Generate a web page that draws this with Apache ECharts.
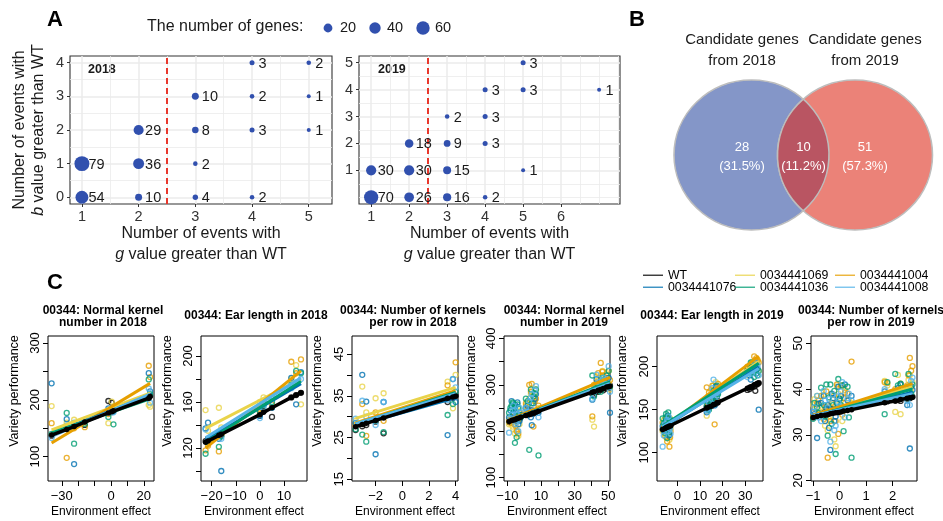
<!DOCTYPE html>
<html><head><meta charset="utf-8">
<script src="https://cdn.jsdelivr.net/npm/echarts@6/dist/echarts.min.js"></script>
<style>html,body{margin:0;padding:0;background:#fff}#c{width:943px;height:521px}</style>
</head><body><div id="c"></div>
<script>
// ===== Panel A data =====
const a2018G = [1,1,2,2,2,3,3,3,3,4,4,4,4,5,5,5];
const a2018B = [0,1,0,1,2,0,1,2,3,0,2,3,4,2,3,4];
const a2018N = [54,79,10,36,29,4,2,8,10,2,3,2,3,1,1,2];
const a2019G = [1,1,2,2,2,3,3,3,3,4,4,4,4,5,5,5,7];
const a2019B = [0,1,0,1,2,0,1,2,3,0,2,3,4,1,4,5,4];
const a2019N = [70,30,26,30,18,16,15,9,2,2,3,3,3,1,3,3,1];
const sizeLegendValues = [20,40,60];
const cutoffG = 2.5;
const yearLabels = ['2018','2019'];
const a2018XTicks = [1,2,3,4,5];
const a2018YTicks = [0,1,2,3,4];
const a2019XTicks = [1,2,3,4,5,6];
const a2019YTicks = [1,2,3,4,5];

// ===== Panel B data =====
const vennTitles = ['Candidate genes\nfrom 2018','Candidate genes\nfrom 2019'];
const vennCounts = [28,10,51];
const vennPct = ['31.5%','11.2%','57.3%'];

// ===== Panel C data =====
const genotypes = ['WT','0034441069','0034441004','0034441076','0034441036','0034441008'];
const cTitles = ['00344: Normal kernel\nnumber in 2018','00344: Ear length in 2018','00344: Number of kernels\nper row in 2018',
                 '00344: Normal kernel\nnumber in 2019','00344: Ear length in 2019','00344: Number of kernels\nper row in 2019'];
// plot 1: normal kernel number 2018  (obs rows in genotype order)
const p1Env = [-36.2,-27,-22.5,-16,-1.6,0.4,1.5,23.0,23.8];
const p1Obs = [
  [137,150,158,156,198,195,182,203,207],
  [189,160,165,162,159,197,185,191,188],
  [159,98,150,152,175,182,180,260,240],
  [229,166,87,163,185,178,180,247,215],
  [140,177,123,158,170,182,157,236,210],
  [133,155,160,162,179,185,178,220,195]];
const p1Fit = [[138,206],[147,212],[124,229],[140,208],[142,202],[136,210]];
const p1WTFit = [138,148,153,161,177,179,181,203,206];
// plot 2: ear length 2018
const p2Env = [-22.5,-21.5,-17,-16,0,1.5,5,13,15,17];
const p2Obs = [
  [126,128,133,131,148,152,147,164,166,168],
  [153,135,155,138,160,164,163,180,192,158],
  [118,122,117,133,150,160,158,195,185,197],
  [137,142,128,100,148,160,155,181,158,186],
  [115,125,121,130,152,157,160,175,187,185],
  [136,127,132,128,146,155,165,172,177,180]];
const p2Fit = [[125,168],[137,180],[120,187],[127,176],[125,178],[129,181]];
const p2WTFit = [125,126,131,132,149,151,155,164,166,168];
// plot 3: kernels per row 2018
const p3Env = [-3.5,-3.0,-2.7,-2.0,-1.4,3.4,3.8,4.0];
const p3Obs = [
  [26.8,27.7,28,28.8,26,33.5,34.5,35],
  [29,37.2,31,34.4,35.6,38.4,32,40],
  [28,33,25.4,31,29,37.5,35,43],
  [28.5,40,33.6,21,33.5,25.6,39,33.5],
  [27,25.7,24,29,26.3,30.4,33,36],
  [29.5,33.8,30,28,33.5,34,39,37]];
const p3Fit = [[27.6,34.9],[29.6,37],[28.5,36.2],[27.8,34.5],[28.2,35.8],[28.3,35.5]];
const p3WTFit = [27.6,28.1,28.4,29.1,29.7,34.4,34.7,34.9];
// plot 4: normal kernel number 2019
const p4Env = [-9,-7.5,-6.5,-5.5,-4.5,-3.5,-2,1,3,4.5,5.5,7,8.5,40.5,41.5,44,45.5,47,49,50.2,51];
const p4Obs = [
  [220,224,226,222,230,228,232,236,240,245,238,244,246,280,278,285,290,288,292,295,298],
  [215,225,205,195,230,190,245,255,270,285,265,290,250,225,210,310,320,315,325,305,290],
  [225,222,240,215,200,195,235,260,300,302,210,270,255,232,300,325,347,320,315,330,310],
  [230,265,240,250,228,215,235,250,245,213,260,280,240,268,290,300,295,305,310,315,240],
  [240,255,260,175,187,250,230,270,160,260,275,290,148,320,275,300,285,310,320,330,295],
  [197,235,255,245,220,200,240,250,265,280,245,297,230,270,285,305,300,315,312,340,285]];
const p4EnvB = [-8.2,-6.8,-5.2,-4,-2.8,2,4,6.3,43,46.5];
const p4ObsB = [
  [223,225,227,229,226,235,237,240,286,291],
  [232,210,228,200,215,262,280,275,318,330],
  [218,230,212,226,240,248,285,265,305,328],
  [245,238,256,262,222,255,230,270,312,300],
  [250,262,243,258,235,265,290,282,295,315],
  [228,245,215,236,250,242,272,288,322,310]];
const p4Fit = [[221,297],[222,300],[224,316],[223,304],[222,306],[222,303]];
const p4WTFit = [221,223,224,225,227,228,230,234,236,238,239,241,243,284,285,288,290,292,295,296,297];
// plot 5: ear length 2019
const p5Env = [-6.5,-5.5,-5,-4.5,-4,-3.5,-3,13,14,15,16,16.5,17.5,18,31,32,33,34,34.5,35,36];
const p5Obs = [
  [127,128,129,130,131,130,132,153,155,156,157,158,159,160,173,174,176,177,172,179,181],
  [125,130,118,135,142,115,128,143,165,172,178,168,160,174,190,200,195,205,198,202,195],
  [135,120,140,113,130,107,125,176,170,165,160,133,175,180,200,198,205,212,208,210,205],
  [131,125,137,128,140,121,133,147,152,160,168,155,165,170,195,190,198,200,205,192,150],
  [140,123,145,117,147,133,138,155,150,162,172,165,178,168,198,193,202,188,200,196,195],
  [107,133,128,138,125,130,122,150,158,167,185,162,170,175,188,195,192,198,204,200,190]];
const p5EnvB = [-6,-5.2,-4.2,-3.8,-3.2,13.5,15.5,17,32.5,35.5];
const p5ObsB = [
  [128,129,131,130,132,154,155,157,176,180],
  [138,127,122,133,140,158,170,182,203,208],
  [128,133,125,138,118,165,178,172,195,207],
  [126,136,143,120,131,150,163,177,185,198],
  [134,141,129,124,137,160,158,171,205,190],
  [120,131,136,142,128,148,175,169,197,202]];
const p5Fit = [[127,181],[129,206],[128,212],[129,200],[131,204],[130,198]];
const p5WTFit = [127,128,129,130,130,131,131,152,153,154,156,156,158,158,175,176,177,179,179,180,181];
// plot 6: kernels per row 2019
const p6Env = [-1.0,-0.85,-0.7,-0.55,-0.45,-0.35,-0.25,-0.15,-0.05,0.05,0.15,0.3,0.45,1.7,2.1,2.3,2.55,2.65,2.75];
const p6Obs = [
  [33.8,34.2,34.5,35,34.6,35.3,35.0,35.5,35.2,35.8,35.4,35.9,36,37.2,37.5,37.4,37.9,38,38.3],
  [36.5,38.5,35,32,31,34,37,27.5,39,37.5,40.5,36,37,41.8,35,34.5,40.5,43,41.5],
  [34,36.8,38.5,36,25,33,35.5,33,30.2,40.8,38,39,46,41.5,40,41.2,40.8,46.8,45],
  [35,29.3,37,33,36.5,26.7,38,34,40.5,38.5,36,37.5,38.5,39.5,38.5,41,36.5,27,39.8],
  [33.5,36,40.3,34,29.8,41,36.5,25.8,42.2,36.5,30.8,40.5,25,34.5,43.3,41.2,38,40.5,41],
  [35,38.5,33,37.5,36,28.5,38.8,32,37,39.5,35.5,38,37.5,40,39,38.2,37.5,36.5,42.5]];
const p6EnvB = [-0.95,-0.8,-0.6,-0.5,-0.4,-0.3,-0.2,-0.1,0,0.1,0.2,0.35,1.8,2.2,2.6,2.7];
const p6ObsB = [
  [34.0,34.6,34.8,35.1,34.9,35.6,35.2,35.4,35.7,35.5,35.9,36.1,37.3,37.6,38.1,38.2],
  [37.8,35.5,38.8,36.2,33.5,38.8,29,40.5,36.8,33,39.8,37.6,40.8,43.1,42,40],
  [35.8,37.5,33.4,39.5,34.7,37,38.7,41,36,34.4,39.2,36.5,41.3,39.5,43,44],
  [34.5,36.8,38.5,35.8,31.5,39,33,36.9,37.8,35.5,41,36,38.7,40.2,38,40.6],
  [37,34.8,36.5,41,38.2,32.4,39.6,35,37.9,40.8,36,33.8,41.5,40.8,43.3,39],
  [36,33.8,39.6,34.5,37.8,35.2,31,38.4,36.3,41.5,33.8,39,38.5,39.8,40.5,41.8]];
const p6Fit = [[33.8,38.2],[34.2,40.5],[34.3,41.2],[34.1,39.3],[34,40],[34.2,39]];
const p6WTFit = [33.8,34.0,34.2,34.3,34.4,34.6,34.7,34.8,34.9,35.0,35.2,35.3,35.5,37.0,37.4,37.7,38.0,38.1,38.2];

// ===== styles / layout =====
const FONT = '"Liberation Sans", Arial, Helvetica, sans-serif';
const BUBBLE = '#3150AE';
const GCOL = ['#000000','#E9D34A','#E69F00','#0072B2','#009E73','#56B4E9'];
const cEnv = [p1Env,p2Env,p3Env,p4Env,p5Env,p6Env];
const cObs = [p1Obs,p2Obs,p3Obs,p4Obs,p5Obs,p6Obs];
const cEnvB = [[],[],[],p4EnvB,p5EnvB,p6EnvB];
const cObsB = [null,null,null,p4ObsB,p5ObsB,p6ObsB];
const cFit = [p1Fit,p2Fit,p3Fit,p4Fit,p5Fit,p6Fit];
const cWT = [p1WTFit,p2WTFit,p3WTFit,p4WTFit,p5WTFit,p6WTFit];
const cLayout = [
 {left:48, xMin:-38.4,xMax:26.2, yMin:57.3,yMax:312.3, xT:[-30,-20,-10,0,10,20], xL:[-30,0,20], yT:[100,150,200,250,300], yL:[100,200,300], tX:103, lX:15},
 {left:201,xMin:-24.4,xMax:19.5, yMin:91.3,yMax:217.4, xT:[-20,-10,0,10], xL:[-20,-10,0,10], yT:[100,120,140,160,180,200], yL:[120,160,200], tX:256, lX:168},
 {left:352,xMin:-3.77,xMax:4.18, yMin:14.6,yMax:49.3, xT:[-2,0,2,4], xL:[-2,0,2,4], yT:[15,20,25,30,35,40,45], yL:[15,25,35,45], tX:413, lX:318},
 {left:504,xMin:-12,xMax:51, yMin:92.9,yMax:405, xT:[-10,0,10,20,30,40,50], xL:[-10,10,30,50], yT:[100,150,200,250,300,350,400], yL:[100,200,300,400], tX:564, lX:472},
 {left:657,xMin:-9.0,xMax:37.9, yMin:67.1,yMax:235.7, xT:[0,10,20,30], xL:[0,10,20,30], yT:[100,150,200], yL:[100,150,200], tX:712, lX:623},
 {left:811,xMin:-1.08,xMax:2.92, yMin:19.9,yMax:51.6, xT:[-1,0,1,2], xL:[-1,0,1,2], yT:[20,30,40,50], yL:[20,30,40,50], tX:871, lX:778}
];
function bubbleSize(n){ return 2.6 + 1.39*Math.sqrt(n); }
function minusFmt(v){ v = Number(v); return v < 0 ? '\u2212' + Math.abs(v) : String(v); }

const grid = [], xAxis = [], yAxis = [], series = [], graphic = [];

// ----- Panel A -----
const aCfg = [
  {left:70, width:262, xMin:0.79, xMax:5.41, yMin:-0.2, yMax:4.2, xT:a2018XTicks, xL:a2018XTicks, xMinor:[1.5,2.5,3.5,4.5], yT:a2018YTicks, yL:a2018YTicks, yMinor:[0.5,1.5,2.5,3.5], G:a2018G, B:a2018B, N:a2018N},
  {left:359,width:261, xMin:0.68, xMax:7.55, yMin:-0.25, yMax:5.25, xT:a2019XTicks, xL:a2019XTicks, xMinor:[1.5,2.5,3.5,4.5,5.5,6.5,7,7.5], yT:a2019YTicks, yL:a2019YTicks, yMinor:[0,0.5,1.5,2.5,3.5,4.5], G:a2019G, B:a2019B, N:a2019N}
];
aCfg.forEach((c, k) => {
  grid.push({left:c.left, top:56, width:c.width, height:148, show:true, borderColor:'#333', borderWidth:1.1, backgroundColor:'#fff', outerBoundsMode:'none', containLabel:false});
  const gi = k;
  const majorLine = {show:true, lineStyle:{color:'#EBEBEB', width:1.5}};
  const minorLine = {show:true, lineStyle:{color:'#EBEBEB', width:0.8}};
  xAxis.push({gridIndex:gi, type:'value', position:'bottom', min:c.xMin, max:c.xMax,
    axisLine:{show:false, onZero:false}, axisTick:{show:true, length:3, lineStyle:{color:'#333', width:1}, customValues:c.xT},
    axisLabel:{customValues:c.xL, margin:5, fontSize:14.5, color:'#333', fontFamily:FONT}, splitLine:majorLine});
  xAxis.push({gridIndex:gi, type:'value', position:'top', min:c.xMin, max:c.xMax,
    axisLine:{show:false, onZero:false}, axisTick:{show:false, customValues:c.xMinor}, axisLabel:{show:false}, splitLine:minorLine});
  yAxis.push({gridIndex:gi, type:'value', position:'left', min:c.yMin, max:c.yMax,
    axisLine:{show:false, onZero:false}, axisTick:{show:true, length:3, lineStyle:{color:'#333', width:1}, customValues:c.yT},
    axisLabel:{customValues:c.yL, margin:6, fontSize:14.5, color:'#333', fontFamily:FONT}, splitLine:majorLine});
  yAxis.push({gridIndex:gi, type:'value', position:'right', min:c.yMin, max:c.yMax,
    axisLine:{show:false, onZero:false}, axisTick:{show:false, customValues:c.yMinor}, axisLabel:{show:false}, splitLine:minorLine});
  series.push({
    type:'scatter', xAxisIndex:2*k, yAxisIndex:2*k, silent:true, z:3,
    data:c.G.map((g,i)=>[g, c.B[i], c.N[i]]),
    symbolSize:v=>bubbleSize(v[2]),
    itemStyle:{color:BUBBLE, opacity:1},
    label:{show:true, position:'inside', align:'left', verticalAlign:'middle', offset:[6.5,1],
      formatter:p=>String(p.value[2]), fontSize:14.5, color:'#1a1a1a', fontFamily:FONT},
    markLine:{silent:true, symbol:'none', z:2, label:{show:false},
      lineStyle:{color:'#E8372C', type:[6,4], width:2}, data:[{xAxis:cutoffG}]}
  });
});

// ----- Panel C -----
cLayout.forEach((L, k) => {
  const gi = 2 + k, ai = 4 + k;
  grid.push({left:L.left, top:336, width:106, height:145, show:true, borderColor:'#000', borderWidth:1, backgroundColor:'transparent', outerBoundsMode:'none', containLabel:false});
  xAxis.push({gridIndex:gi, type:'value', min:L.xMin, max:L.xMax, axisLine:{show:false, onZero:false},
    axisTick:{show:true, length:5, lineStyle:{color:'#000', width:1}, customValues:L.xT},
    axisLabel:{customValues:L.xL, formatter:minusFmt, margin:9, fontSize:13, color:'#000', fontFamily:FONT},
    splitLine:{show:false}});
  yAxis.push({gridIndex:gi, type:'value', min:L.yMin, max:L.yMax, axisLine:{show:false, onZero:false},
    axisTick:{show:true, length:5, lineStyle:{color:'#000', width:1}, customValues:L.yT},
    axisLabel:{customValues:L.yL, rotate:90, margin:6, fontSize:13, color:'#000', fontFamily:FONT},
    splitLine:{show:false}});
  const env = cEnv[k], obs = cObs[k], fit = cFit[k], envB = cEnvB[k], obsB = cObsB[k];
  const xmin = Math.min(...env), xmax = Math.max(...env);
  for (let g = 0; g < genotypes.length; g++) {
    let pts = env.map((x,i)=>[x, obs[g][i]]);
    if (obsB) pts = pts.concat(envB.map((x,i)=>[x, obsB[g][i]]));
    series.push({name:genotypes[g], type:'scatter', xAxisIndex:ai, yAxisIndex:ai, silent:true, z:2,
      data:pts, symbol:'circle', symbolSize:5,
      itemStyle:{color:'rgba(0,0,0,0)', borderColor:GCOL[g], borderWidth:1.3}});
  }
  for (let g = 1; g < genotypes.length; g++) {
    series.push({name:genotypes[g], type:'line', xAxisIndex:ai, yAxisIndex:ai, silent:true, z:3,
      data:[[xmin, fit[g][0]],[xmax, fit[g][1]]], symbol:'none', showSymbol:false,
      lineStyle:{color:GCOL[g], width:3}, itemStyle:{color:GCOL[g]}});
  }
  series.push({name:'WT', type:'line', xAxisIndex:ai, yAxisIndex:ai, silent:true, z:4,
    data:env.map((x,i)=>[x, cWT[k][i]]), symbol:'circle', symbolSize:5.5, showSymbol:true,
    lineStyle:{color:'#000', width:3.5}, itemStyle:{color:'#000'}});
  graphic.push({type:'text', x:L.tX, y:cTitles[k].indexOf('\n')>=0 ? 316.5 : 315.7, style:{text:cTitles[k], fontSize:12, fontWeight:'bold', fontFamily:FONT, fill:'#000', align:'center', verticalAlign:'middle', lineHeight:11.5}});
  graphic.push({type:'text', x:L.lX, y:391, rotation:Math.PI/2, style:{text:'Variety performance', fontSize:12.5, fontFamily:FONT, fill:'#000', align:'center', verticalAlign:'middle'}});
  graphic.push({type:'text', x:L.left+53, y:512, style:{text:'Environment effect', fontSize:12, fontFamily:FONT, fill:'#000', align:'center', verticalAlign:'middle'}});
});

// ----- Panel B: Venn (custom series) -----
const VENN = {lcx:751.5, rcx:855, cy:155, rx:77.5, ry:75};
series.push({
  type:'custom', coordinateSystem:'none', silent:true, z:2, data:[vennCounts[0]],
  renderItem:function(){
    const V = VENN;
    const ell = cx => `M ${cx-V.rx} ${V.cy} A ${V.rx} ${V.ry} 0 1 0 ${cx+V.rx} ${V.cy} A ${V.rx} ${V.ry} 0 1 0 ${cx-V.rx} ${V.cy} Z`;
    const xi = (V.lcx+V.rcx)/2;
    const dy = V.ry*Math.sqrt(1 - Math.pow((xi-V.lcx)/V.rx, 2));
    const lens = `M ${xi} ${V.cy-dy} A ${V.rx} ${V.ry} 0 0 0 ${xi} ${V.cy+dy} A ${V.rx} ${V.ry} 0 0 0 ${xi} ${V.cy-dy} Z`;
    const stroke = {stroke:'#BDBDBD', lineWidth:1.6};
    const lbl = (x, n, p) => ({type:'text', x:x, y:156.5, style:{text:n + '\n(' + p + ')', fill:'#fff', fontSize:13, fontFamily:FONT, align:'center', verticalAlign:'middle', lineHeight:19}});
    return {type:'group', children:[
      {type:'path', shape:{pathData:ell(V.lcx)}, style:Object.assign({fill:'#8496C8'}, stroke)},
      {type:'path', shape:{pathData:ell(V.rcx)}, style:Object.assign({fill:'#EB8278'}, stroke)},
      {type:'path', shape:{pathData:lens}, style:Object.assign({fill:'#B95562'}, stroke)},
      lbl(742, vennCounts[0], vennPct[0]),
      lbl(803.5, vennCounts[1], vennPct[1]),
      lbl(865, vennCounts[2], vennPct[2]),
      {type:'text', x:742, y:50, style:{text:vennTitles[0], fill:'#1a1a1a', fontSize:15, fontFamily:FONT, align:'center', verticalAlign:'middle', lineHeight:21}},
      {type:'text', x:865, y:50, style:{text:vennTitles[1], fill:'#1a1a1a', fontSize:15, fontFamily:FONT, align:'center', verticalAlign:'middle', lineHeight:21}}
    ]};
  }
});

// ----- free text (panel letters, A titles, size legend) -----
const bold22 = {fontSize:22, fontWeight:'bold', fontFamily:FONT, fill:'#000', align:'center', verticalAlign:'middle'};
graphic.push({type:'text', x:55, y:20, style:Object.assign({text:'A'}, bold22)});
graphic.push({type:'text', x:637, y:20, style:Object.assign({text:'B'}, bold22)});
graphic.push({type:'text', x:55, y:283, style:Object.assign({text:'C'}, bold22)});
graphic.push({type:'text', x:147, y:27, style:{text:'The number of genes:', fontSize:16, fontFamily:FONT, fill:'#1a1a1a', align:'left', verticalAlign:'middle'}});
const legX = [328, 375, 423];
sizeLegendValues.forEach((v,i) => {
  graphic.push({type:'circle', shape:{cx:legX[i], cy:28, r:bubbleSize(v)/2}, style:{fill:BUBBLE}});
  graphic.push({type:'text', x:legX[i]+12, y:28, style:{text:String(v), fontSize:14.5, fontFamily:FONT, fill:'#1a1a1a', align:'left', verticalAlign:'middle'}});
});
const rich = {i:{fontStyle:'italic', fontSize:16, fontFamily:FONT, fill:'#1a1a1a'}, n:{fontSize:16, fontFamily:FONT, fill:'#1a1a1a'}};
[[201],[489.5]].forEach(([cx]) => {
  graphic.push({type:'text', x:cx, y:234, style:{text:'{n|Number of events with}', rich:rich, align:'center', verticalAlign:'middle'}});
  graphic.push({type:'text', x:cx, y:255, style:{text:'{i|g}{n| value greater than WT}', rich:rich, align:'center', verticalAlign:'middle'}});
});
graphic.push({type:'text', x:20, y:130, rotation:Math.PI/2, style:{text:'{n|Number of events with}', rich:rich, align:'center', verticalAlign:'middle'}});
graphic.push({type:'text', x:39, y:130, rotation:Math.PI/2, style:{text:'{i|b}{n| value greater than WT}', rich:rich, align:'center', verticalAlign:'middle'}});
graphic.push({type:'text', x:88, y:70, style:{text:yearLabels[0], fontSize:12.5, fontWeight:'bold', fontFamily:FONT, fill:'#1a1a1a', align:'left', verticalAlign:'middle'}});
graphic.push({type:'text', x:378, y:69.5, style:{text:yearLabels[1], fontSize:12.5, fontWeight:'bold', fontFamily:FONT, fill:'#1a1a1a', align:'left', verticalAlign:'middle'}});

// ----- Panel C legend (3 columns) -----
const legCols = [[0,3],[1,4],[2,5]];
const legLeft = [643, 735, 835];
const legend = legCols.map((col, j) => ({
  show:true, orient:'vertical', left:legLeft[j], top:269.25, padding:0, itemGap:0,
  itemWidth:20, itemHeight:1.4, icon:'rect', selectedMode:false,
  textStyle:{fontSize:12.3, fontFamily:FONT, color:'#000', lineHeight:11.5},
  data:col.map(g => ({name:genotypes[g], icon:'rect', itemStyle:{color:GCOL[g], borderWidth:0}}))
}));

const chart = echarts.init(document.getElementById('c'), null, {renderer:'canvas'});
chart.setOption({
  animation:false, backgroundColor:'#fff',
  grid:grid, xAxis:xAxis, yAxis:yAxis, series:series, legend:legend,
  graphic:{elements:graphic}
});
</script></body></html>
